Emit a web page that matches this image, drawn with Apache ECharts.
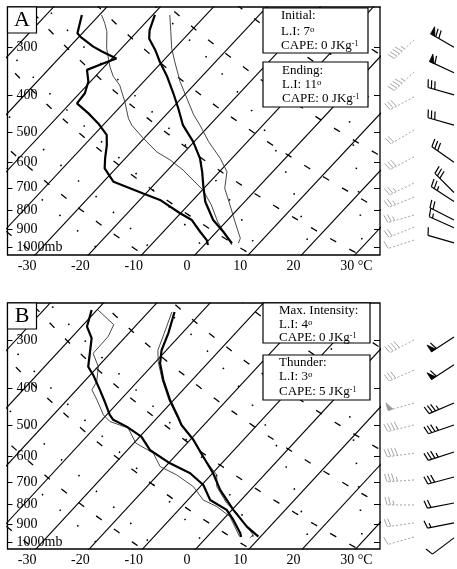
<!DOCTYPE html>
<html><head><meta charset="utf-8">
<script src="https://cdn.jsdelivr.net/npm/echarts@6/dist/echarts.min.js"></script>
<style>html,body{margin:0;padding:0;background:#fff}#c{width:457px;height:569px}</style>
</head><body><div id="c"></div>
<script>
// ---------------- data ----------------
const tempTicks = [-30, -20, -10, 0, 10, 20, 30];
const pressureTicks = [300, 400, 500, 600, 700, 800, 900, 1000];
const isotherms = [-130, -120, -110, -100, -90, -80, -70, -60, -50, -40, -30, -20, -10, 0, 10, 20, 30, 40];
const dryAdiabats = [220, 240, 260, 280, 300, 320, 340, 360, 380, 400, 420, 440, 460];
const moistAdiabats = [-20, -10, 0, 10, 20, 30];

// Panel A (Initial: thick, Ending: thin)
const aThickLeftP = [988, 959, 912, 850, 816, 753, 724, 675, 655, 623, 586, 541, 509, 475, 447, 421, 396, 369, 344, 331, 321, 308, 299, 282, 276, 247];
const aThickLeftT = [0.7, -0.4, -3.1, -6.7, -10.1, -16.2, -20.5, -28.1, -29.6, -32.1, -33.8, -35.8, -37.6, -41.2, -44.8, -48.7, -49.0, -50.4, -52.7, -50.8, -49.2, -53.1, -55.6, -59.7, -60.9, -63.3];
const aThickRightP = [978, 912, 850, 761, 695, 636, 586, 530, 480, 434, 396, 358, 328, 305, 285, 271, 247];
const aThickRightT = [4.9, 1.25, -2.7, -7.4, -10.4, -13.2, -16.0, -20.2, -25.0, -28.8, -32.4, -36.5, -40.4, -43.4, -46.5, -47.9, -49.6];
const aThinLeftP = [988, 930, 860, 776, 709, 668, 629, 592, 564, 519, 480, 461, 417, 377, 358, 338, 302, 273, 260, 247];
const aThinLeftT = [5.2, 2.3, -1.5, -5.7, -9.9, -13.5, -17.1, -21.3, -25.2, -30.2, -34.6, -36.4, -40.0, -43.9, -46.6, -48.9, -52.8, -55.7, -57.5, -59.6];
const aThinRightP = [978, 949, 859, 776, 702, 635, 586, 530, 480, 451, 408, 369, 328, 302, 273, 247];
const aThinRightT = [6.1, 5.6, 1.7, -2.2, -6.1, -8.6, -12.2, -17.3, -21.8, -24.8, -29.0, -33.2, -37.6, -40.6, -43.7, -46.8];

// Panel B (Max. Intensity: thick, Thunder: thin)
const bThickLeftP = [971, 949, 877, 826, 779, 712, 664, 626, 578, 534, 503, 483, 469, 437, 404, 370, 352, 297, 277, 251];
const bThickLeftT = [6.4, 5.6, 2.0, -1.0, -5.8, -9.7, -14.2, -19.7, -25.8, -29.7, -34.2, -37.9, -39.4, -42.3, -45.6, -49.4, -51.8, -56.1, -59.0, -61.0];
const bThinLeftP = [969, 931, 860, 810, 779, 719, 671, 638, 589, 555, 507, 488, 469, 429, 404, 385, 352, 325, 294, 274, 251];
const bThinLeftT = [6.1, 4.3, 0.8, -3.4, -7.1, -11.3, -16.4, -21.0, -24.6, -29.6, -33.7, -38.2, -40.6, -44.4, -47.1, -47.6, -49.9, -53.2, -53.3, -54.3, -59.8];
const bThickRightP = [969, 913, 826, 733, 664, 602, 544, 498, 474, 429, 381, 345, 319, 288, 254];
const bThickRightT = [9.6, 5.7, 0.25, -5.7, -9.9, -14.6, -19.4, -24.2, -26.3, -30.7, -35.4, -38.9, -40.9, -42.6, -45.1];
const bThinRightP = [976, 959, 904, 841, 793, 719, 671, 602, 544, 498, 429, 381, 342, 319, 289, 254];
const bThinRightT = [8.2, 8.3, 5.2, 1.4, -2.2, -6.9, -8.9, -14.7, -19.5, -24.3, -30.9, -35.6, -39.5, -41.6, -43.3, -45.6];

// wind barbs (pressure hPa, direction from deg, speed kt)
const aBarbBlackP = [300, 350, 400, 480, 600, 720, 760, 850, 890, 975];
const aBarbBlackDir = [300, 295, 286, 286, 305, 315, 303, 297, 294, 286];
const aBarbBlackSpd = [70, 60, 30, 30, 30, 30, 25, 20, 15, 10];
const aBarbGrayP = [287, 348, 405, 494, 581, 680, 740, 825, 887, 959];
const aBarbGrayDir = [226, 226, 242, 239, 242, 244, 248, 254, 248, 252];
const aBarbGraySpd = [45, 45, 30, 20, 30, 25, 25, 25, 20, 10];
const bBarbBlackP = [295, 348, 437, 498, 585, 679, 793, 893, 976];
const bBarbBlackDir = [237, 237, 247, 251, 252, 255, 259, 259, 233];
const bBarbBlackSpd = [60, 60, 35, 35, 35, 30, 20, 15, 10];
const bBarbGrayP = [300, 359, 437, 498, 589, 691, 802, 893, 971];
const bBarbGrayDir = [242, 246, 254, 256, 262, 266, 270, 262, 254];
const bBarbGraySpd = [40, 30, 50, 40, 40, 35, 25, 20, 10];

// annotation texts
const panelLetters = ['A', 'B'];
const aBox1 = ['Initial:', 'L.I: 7{o|o}', 'CAPE: 0 JKg{s|-1}'];
const aBox2 = ['Ending:', 'L.I: 11{o|o}', 'CAPE: 0 JKg{s|-1}'];
const bBox1 = ['Max. Intensity:', 'L.I: 4{o|o}', 'CAPE: 0 JKg{s|-1}'];
const bBox2 = ['Thunder:', 'L.I: 3{o|o}', 'CAPE: 5 JKg{s|-1}'];

// ---------------- skew-T transform ----------------
const SKEW = 29.1, XOFF = 2.88;
const yv = p => Math.log(1000 / p);
const xv = (t, p) => t + SKEW * yv(p) + XOFF;
const profile = (P, T) => P.map((p, i) => [xv(T[i], p), yv(p)]);
const FONT = '"Liberation Serif", "Times New Roman", serif';

function moistCurve(t0) {
  const f = (T, p) => {
    const tc = T - 273.15;
    const es = 6.112 * Math.exp(17.67 * tc / (tc + 243.5));
    const rs = 0.622 * es / (p - es);
    return (287 * T + 2.5e6 * rs) / (p * (1004 + 2.5e6 * 2.5e6 * rs * 0.622 / (287 * T * T)));
  };
  const up = [], down = [];
  let T = t0 + 273.15;
  for (let p = 1000; p > 200; p -= 5) { T -= f(T, p) * 5; up.push([p - 5, T - 273.15]); }
  T = t0 + 273.15;
  for (let p = 1000; p < 1100; p += 5) { T += f(T, p) * 5; down.push([p + 5, T - 273.15]); }
  return down.reverse().concat([[1000, t0]], up);
}

function bgSeries(xi, yi) {
  const out = [];
  const pl = []; for (let p = 1100; p >= 200; p -= 10) pl.push(p);
  const base = { type: 'line', xAxisIndex: xi, yAxisIndex: yi, symbol: 'none', silent: true, z: 1 };
  isotherms.forEach(t => out.push(Object.assign({}, base, {
    data: [[xv(t, 1100), yv(1100)], [xv(t, 200), yv(200)]],
    lineStyle: { color: '#000', width: 1.1 } })));
  dryAdiabats.forEach(th => out.push(Object.assign({}, base, {
    data: pl.map(p => [xv(th * Math.pow(p / 1000, 0.286) - 273.15, p), yv(p)]),
    lineStyle: { color: '#000', width: 1.3, type: [7, 15] } })));
  moistAdiabats.forEach(t0 => out.push(Object.assign({}, base, {
    data: moistCurve(t0).map(d => [xv(d[1], d[0]), yv(d[0])]),
    lineStyle: { color: '#000', width: 1.6, type: [1.5, 22] } })));
  return out;
}

function profSeries(xi, yi, P, T, thick) {
  return { type: 'line', xAxisIndex: xi, yAxisIndex: yi, symbol: 'none', silent: true, z: 5,
    data: profile(P, T),
    lineStyle: thick ? { color: '#000', width: 2.2 } : { color: '#333', width: 0.9 } };
}

function barbRender(color, dashed, width) {
  return function (params, api) {
    const s = api.coord([api.value(0), api.value(1)]);
    const d = api.value(2) * Math.PI / 180;
    const spd = api.value(3);
    const ux = Math.sin(d), uy = -Math.cos(d);
    const nx = -uy, ny = ux;
    const L = 27;
    const tip = [s[0] + ux * L, s[1] + uy * L];
    const ch = [];
    const st = { stroke: color, lineWidth: width, fill: 'none' };
    ch.push({ type: 'line', shape: { x1: s[0], y1: s[1], x2: tip[0], y2: tip[1] },
      style: Object.assign({}, st, dashed ? { lineDash: [2, 2] } : {}) });
    let rem = Math.round(spd / 5) * 5;
    const flags = Math.floor(rem / 50); rem -= flags * 50;
    const full = Math.floor(rem / 10); rem -= full * 10;
    const half = rem >= 5;
    let pos = 0;
    const at = q => [tip[0] - ux * q, tip[1] - uy * q];
    for (let i = 0; i < flags; i++) {
      const a = at(pos), b = at(pos + 5);
      ch.push({ type: 'polygon', shape: { points: [a, [a[0] + nx * 8, a[1] + ny * 8], b] },
        style: { fill: color, stroke: color, lineWidth: 0.8 } });
      pos += 6;
    }
    for (let i = 0; i < full; i++) {
      const a = at(pos);
      ch.push({ type: 'line', shape: { x1: a[0], y1: a[1], x2: a[0] + nx * 8 + ux * 2, y2: a[1] + ny * 8 + uy * 2 }, style: st });
      pos += 3.5;
    }
    if (half) {
      if (flags === 0 && full === 0) pos = 3.5;
      const a = at(pos);
      ch.push({ type: 'line', shape: { x1: a[0], y1: a[1], x2: a[0] + nx * 4.5 + ux * 1, y2: a[1] + ny * 4.5 + uy * 1 }, style: st });
    }
    return { type: 'group', children: ch };
  };
}

function barbSeries(xi, yi, col, P, D, S, gray) {
  return { type: 'custom', xAxisIndex: xi, yAxisIndex: yi, silent: true, z: 5,
    renderItem: gray ? barbRender('#9a9a9a', true, 0.9) : barbRender('#000', false, 1.2),
    data: P.map((p, i) => [col, yv(p), D[i], S[i]]) };
}

// ---------------- layout ----------------
const grids = [
  { left: 7.5, top: 7, width: 372.5, height: 248 },
  { left: 7.5, top: 303, width: 372.5, height: 246 },
  { left: 380, top: 7, width: 77, height: 248 },
  { left: 380, top: 303, width: 77, height: 246 }
];
const yRanges = [[-0.048, 1.446], [-0.042, 1.424]];

function tempAxis(gi) {
  return { type: 'value', gridIndex: gi, min: -33.68, max: 36.21, position: 'bottom',
    axisLine: { show: false, onZero: false }, splitLine: { show: false }, axisTick: { show: false },
    axisLabel: { customValues: tempTicks, margin: 4, color: '#000', fontSize: 14, fontFamily: FONT,
      formatter: v => v === 30 ? '{p|}30 °C' : String(v),
      rich: { p: { width: 19 } } } };
}
function presAxis(gi, r) {
  return { type: 'value', gridIndex: gi, min: r[0], max: r[1], position: 'left',
    axisLine: { show: false, onZero: false }, splitLine: { show: false },
    axisTick: { show: true, inside: true, length: 5, customValues: pressureTicks.map(yv), lineStyle: { color: '#000', width: 1 } },
    axisLabel: { inside: true, margin: 9, customValues: pressureTicks.map(yv), color: '#000', fontSize: 14, fontFamily: FONT,
      formatter: v => { const p = Math.round(1000 / Math.exp(v) / 100) * 100; return p === 1000 ? '1000mb' : String(p); } } };
}
function presAxisRight(gi, r) {
  return { type: 'value', gridIndex: gi, min: r[0], max: r[1], position: 'right',
    axisLine: { show: false, onZero: false }, splitLine: { show: false }, axisLabel: { show: false },
    axisTick: { show: true, inside: true, length: 6, customValues: pressureTicks.map(yv), lineStyle: { color: '#000', width: 1 } } };
}
const hidden = (gi, min, max) => ({ type: 'value', gridIndex: gi, min, max, show: false });

const series = [].concat(
  bgSeries(0, 0), bgSeries(1, 2),
  [profSeries(0, 0, aThinLeftP, aThinLeftT, false), profSeries(0, 0, aThinRightP, aThinRightT, false),
   profSeries(0, 0, aThickLeftP, aThickLeftT, true), profSeries(0, 0, aThickRightP, aThickRightT, true),
   profSeries(1, 2, bThinLeftP, bThinLeftT, false), profSeries(1, 2, bThinRightP, bThinRightT, false),
   profSeries(1, 2, bThickLeftP, bThickLeftT, true), profSeries(1, 2, bThickRightP, bThickRightT, true),
   barbSeries(2, 4, 34, aBarbGrayP, aBarbGrayDir, aBarbGraySpd, true),
   barbSeries(2, 4, 74, aBarbBlackP, aBarbBlackDir, aBarbBlackSpd, false),
   barbSeries(3, 5, 34, bBarbGrayP, bBarbGrayDir, bBarbGraySpd, true),
   barbSeries(3, 5, 74, bBarbBlackP, bBarbBlackDir, bBarbBlackSpd, false)]
);

function textBox(x, y, w, h, lines, lys, tx) {
  const els = [{ type: 'rect', shape: { x, y, width: w, height: h }, z: 100,
    style: { fill: '#fff', stroke: '#000', lineWidth: 1.2 } }];
  lines.forEach((t, i) => els.push({ type: 'text', x: tx, y: lys[i], z: 101,
    style: { text: t, fill: '#000', fontSize: 13, fontFamily: FONT, verticalAlign: 'middle', align: 'left',
      rich: { s: { fontSize: 8, lineHeight: 8, verticalAlign: 'top', fontFamily: FONT, fill: '#000' },
              o: { fontSize: 9, lineHeight: 9, verticalAlign: 'top', fontFamily: FONT, fill: '#000' } } } }));
  return els;
}
function letterBox(x, y, letter) {
  return [{ type: 'rect', shape: { x, y, width: 29, height: 26 }, z: 100, style: { fill: '#fff', stroke: '#000', lineWidth: 1.2 } },
          { type: 'text', x: x + 14.5, y: y + 13.5, z: 101, style: { text: letter, fill: '#000', fontSize: 22, fontFamily: FONT, align: 'center', verticalAlign: 'middle' } }];
}

const graphic = [].concat(
  letterBox(7.5, 7, panelLetters[0]), letterBox(7.5, 303, panelLetters[1]),
  textBox(263, 8, 105, 45, aBox1, [16, 32, 46], 281),
  textBox(263, 62, 105, 45, aBox2, [71, 85, 99], 282),
  textBox(263, 303, 107, 40, bBox1, [311, 325, 338], 279),
  textBox(263, 355, 107, 45, bBox2, [363, 377, 392], 279)
);

const chart = echarts.init(document.getElementById('c'), null, { renderer: 'canvas' });
chart.setOption({
  animation: false,
  backgroundColor: '#fff',
  grid: grids.map((g, i) => Object.assign({ show: i < 2, borderColor: '#000', borderWidth: 1.3, containLabel: false }, g)),
  xAxis: [tempAxis(0), tempAxis(1), hidden(2, 0, 77), hidden(3, 0, 77)],
  yAxis: [presAxis(0, yRanges[0]), presAxisRight(0, yRanges[0]), presAxis(1, yRanges[1]), presAxisRight(1, yRanges[1]),
          hidden(2, yRanges[0][0], yRanges[0][1]), hidden(3, yRanges[1][0], yRanges[1][1])],
  series,
  graphic
});
</script></body></html>
